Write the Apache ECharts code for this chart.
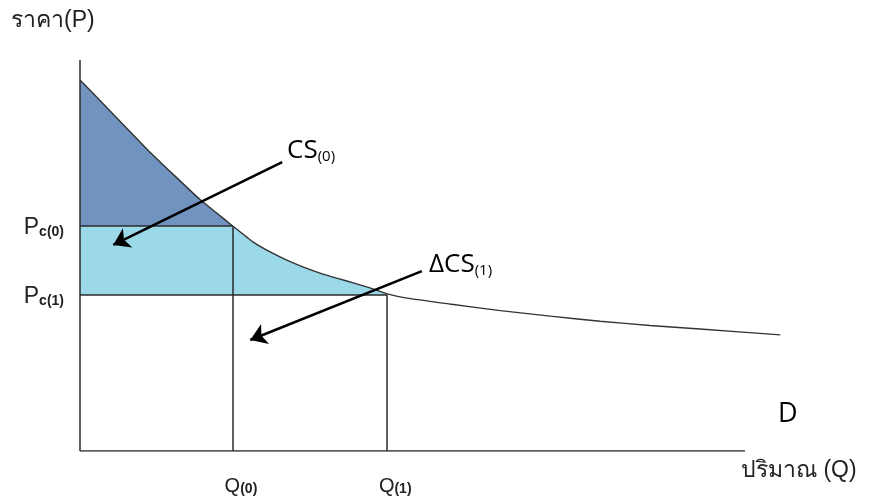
<!DOCTYPE html>
<html><head><meta charset="utf-8">
<script src="https://cdn.jsdelivr.net/npm/echarts@6/dist/echarts.min.js"></script>
<style>html,body{margin:0;padding:0;background:#fff}#c{width:870px;height:498px}</style>
</head><body><div id="c"></div>
<script>
// Demand curve D (quantity Q, price P)
const qVals = [0, 4.96, 10.08, 14.29, 18.05, 20.45, 23.0, 26.0, 28.6, 31.1, 33.5, 36.1, 38.6, 41.1, 43.6, 46.2, 49.2, 55.6, 63.2, 70.7, 78.2, 85.7, 93.2, 105.3];
const pVals = [94.9, 86.2, 77.2, 70.3, 64.3, 61.0, 57.5, 53.5, 50.9, 48.8, 47.1, 45.5, 44.2, 43.0, 41.7, 40.2, 39.1, 37.6, 35.9, 34.5, 33.2, 32.1, 31.2, 29.7];
// Equilibrium points
const qMarks = [23.0, 46.2];          // Q(0), Q(1)
const pMarks = [57.5, 39.9];          // Pc(0), Pc(1)
const qLabels = ['(0)', '(1)'];
const pLabels = ['c(0)', 'c(1)'];
// Annotation arrows [from, to]
const arrowCS0 = [[30.4, 73.9], [5.0, 52.7]];
const arrowCS1 = [[51.4, 46.0], [25.6, 28.4]];
const axisEnd = { q: 100, p: 100 };

const curve = qVals.map((q, i) => [q, pVals[i]]);
const [Q0, Q1] = qMarks;
const [P0, P1] = pMarks;

const darkPoly = [[0, P0]].concat(curve.filter(d => d[0] <= Q0)).concat([[Q0, P0]]);
const lightPoly = [[0, P1], [0, P0], [Q0, P0]]
  .concat(curve.filter(d => d[0] > Q0 && d[0] <= Q1))
  .concat([[Q1, P1]]);

function polySeries(poly, color) {
  return {
    type: 'custom', silent: true, z: 1,
    data: [0],
    renderItem: function (params, api) {
      return {
        type: 'polygon',
        shape: { points: poly.map(p => api.coord(p)) },
        style: { fill: color, stroke: null }
      };
    }
  };
}

const chart = echarts.init(document.getElementById('c'), null, { renderer: 'canvas' });
const font = '"Liberation Sans", Arial, sans-serif';
const annFont = '"Open Sans", "Noto Sans", sans-serif';

chart.setOption({
  animation: false,
  backgroundColor: '#ffffff',
  grid: { left: 80, top: 60, width: 700, height: 391, containLabel: false },
  xAxis: {
    type: 'value', min: 0, max: 105.26,
    axisLine: { show: false }, axisTick: { show: false }, splitLine: { show: false },
    axisLabel: {
      customValues: qMarks,
      margin: 23,
      formatter: v => '{q|Q}{s|' + qLabels[qMarks.indexOf(v)] + '}',
      padding: [0, 0, 0, 16],
      rich: {
        q: { fontFamily: font, fontSize: 20, color: '#222', lineHeight: 22, verticalAlign: 'bottom' },
        s: { fontFamily: font, fontSize: 14, fontWeight: 'bold', color: '#222', lineHeight: 13, verticalAlign: 'bottom' }
      }
    }
  },
  yAxis: {
    type: 'value', min: 0, max: 100,
    axisLine: { show: false }, axisTick: { show: false }, splitLine: { show: false },
    axisLabel: {
      customValues: pMarks,
      margin: 16,
      formatter: v => '{p|P}{s|' + pLabels[pMarks.indexOf(v)] + '}',
      rich: {
        p: { fontFamily: font, fontSize: 23, color: '#222', lineHeight: 26, verticalAlign: 'bottom' },
        s: { fontFamily: font, fontSize: 14, fontWeight: 'bold', color: '#222', lineHeight: 13, verticalAlign: 'bottom' }
      }
    }
  },
  series: [
    polySeries(darkPoly, '#7093bf'),
    polySeries(lightPoly, '#9bd8e8'),
    {
      type: 'lines', coordinateSystem: 'cartesian2d', silent: true, z: 3,
      lineStyle: { color: '#2a2a2a', width: 1.5, opacity: 1 },
      data: [
        { coords: [[0, 0], [0, axisEnd.p]] },
        { coords: [[0, 0], [axisEnd.q, 0]] },
        { coords: [[0, P0], [Q0, P0]] },
        { coords: [[Q0, 0], [Q0, P0]] },
        { coords: [[0, P1], [Q1, P1]] },
        { coords: [[Q1, 0], [Q1, P1]] }
      ]
    },
    {
      type: 'line', data: curve, showSymbol: false, smooth: 0.15, z: 4, silent: true,
      lineStyle: { color: '#333', width: 1.4 }
    },
    {
      type: 'lines', coordinateSystem: 'cartesian2d', silent: true, z: 5,
      symbol: ['none', 'arrow'], symbolSize: [13, 16],
      lineStyle: { color: '#000', width: 2.6, opacity: 1 },
      data: [{ coords: arrowCS0 }, { coords: arrowCS1 }]
    }
  ],
  graphic: [
    { type: 'text', left: 11, top: 9, style: { text: 'ราคา(P)', font: '23px ' + font, fill: '#222' } },
    { type: 'text', left: 741, top: 459, style: { text: 'ปริมาณ (Q)', font: '23px ' + font, fill: '#222' } },
    { type: 'text', left: 287, top: 138, style: {
        text: '{a|CS}{b|(0)}',
        rich: {
          a: { fontFamily: annFont, fontSize: 26, fill: '#000', lineHeight: 32, verticalAlign: 'bottom' },
          b: { fontFamily: annFont, fontSize: 15, fill: '#000', lineHeight: 15, verticalAlign: 'bottom' }
        } } },
    { type: 'text', left: 429, top: 252, style: {
        text: '{a|ΔCS}{b|(1)}',
        rich: {
          a: { fontFamily: annFont, fontSize: 26, fill: '#000', lineHeight: 32, verticalAlign: 'bottom' },
          b: { fontFamily: annFont, fontSize: 15, fill: '#000', lineHeight: 15, verticalAlign: 'bottom' }
        } } },
    { type: 'text', left: 778, top: 401, style: { text: 'D', font: '27px ' + annFont, fill: '#000' } }
  ]
});
</script></body></html>
